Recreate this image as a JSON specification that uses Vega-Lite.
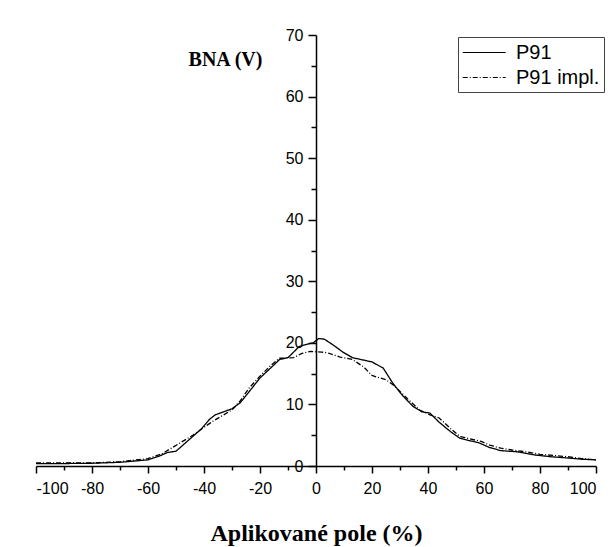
{
  "$schema": "https://vega.github.io/schema/vega-lite/v6.json",
  "width": 560,
  "height": 431,
  "autosize": {"type": "none"},
  "padding": {"left": 36, "top": 35, "right": 17, "bottom": 81},
  "background": "white",
  "config": {
    "view": {"stroke": null},
    "axis": {"grid": false, "domainColor": "black", "tickColor": "black", "labelColor": "black", "labelFont": "Liberation Sans", "labelFontSize": 16, "domainWidth": 1.5, "tickWidth": 1.5},
    "legend": {"labelFont": "Liberation Sans", "labelFontSize": 20, "labelColor": "black"}
  },
  "data": {"values": [
    {"x": -100, "v": 0.4, "s": "P91"}, {"x": -90, "v": 0.4, "s": "P91"}, {"x": -80, "v": 0.45, "s": "P91"}, {"x": -70, "v": 0.6, "s": "P91"}, {"x": -65, "v": 0.8, "s": "P91"}, {"x": -60, "v": 1.0, "s": "P91"}, {"x": -56, "v": 1.6, "s": "P91"}, {"x": -53, "v": 2.2, "s": "P91"}, {"x": -50, "v": 2.4, "s": "P91"}, {"x": -47, "v": 3.6, "s": "P91"}, {"x": -44, "v": 4.8, "s": "P91"}, {"x": -41, "v": 6.0, "s": "P91"}, {"x": -38, "v": 7.6, "s": "P91"}, {"x": -36, "v": 8.3, "s": "P91"}, {"x": -33, "v": 8.8, "s": "P91"}, {"x": -30, "v": 9.3, "s": "P91"}, {"x": -27, "v": 10.3, "s": "P91"}, {"x": -24, "v": 12.0, "s": "P91"}, {"x": -20, "v": 14.3, "s": "P91"}, {"x": -16, "v": 16.0, "s": "P91"}, {"x": -13, "v": 17.3, "s": "P91"}, {"x": -10, "v": 17.6, "s": "P91"}, {"x": -8, "v": 18.5, "s": "P91"}, {"x": -6, "v": 19.4, "s": "P91"}, {"x": -3, "v": 19.8, "s": "P91"}, {"x": -1, "v": 20.0, "s": "P91"}, {"x": 1, "v": 20.7, "s": "P91"}, {"x": 3, "v": 20.6, "s": "P91"}, {"x": 6, "v": 19.7, "s": "P91"}, {"x": 9.6, "v": 18.5, "s": "P91"}, {"x": 13, "v": 17.6, "s": "P91"}, {"x": 17, "v": 17.2, "s": "P91"}, {"x": 20, "v": 16.9, "s": "P91"}, {"x": 24, "v": 15.9, "s": "P91"}, {"x": 27.5, "v": 13.4, "s": "P91"}, {"x": 31, "v": 11.4, "s": "P91"}, {"x": 34.6, "v": 9.7, "s": "P91"}, {"x": 37.8, "v": 8.8, "s": "P91"}, {"x": 40.7, "v": 8.6, "s": "P91"}, {"x": 44, "v": 7.1, "s": "P91"}, {"x": 48, "v": 5.6, "s": "P91"}, {"x": 51.4, "v": 4.5, "s": "P91"}, {"x": 55, "v": 4.1, "s": "P91"}, {"x": 58, "v": 3.8, "s": "P91"}, {"x": 62, "v": 3.0, "s": "P91"}, {"x": 66, "v": 2.5, "s": "P91"}, {"x": 72, "v": 2.3, "s": "P91"}, {"x": 78, "v": 1.8, "s": "P91"}, {"x": 84, "v": 1.5, "s": "P91"}, {"x": 90, "v": 1.3, "s": "P91"}, {"x": 95, "v": 1.1, "s": "P91"}, {"x": 100, "v": 1.0, "s": "P91"},
    {"x": -100, "v": 0.5, "s": "P91 impl."}, {"x": -90, "v": 0.5, "s": "P91 impl."}, {"x": -80, "v": 0.5, "s": "P91 impl."}, {"x": -70, "v": 0.7, "s": "P91 impl."}, {"x": -60, "v": 1.2, "s": "P91 impl."}, {"x": -55, "v": 2.0, "s": "P91 impl."}, {"x": -52, "v": 2.8, "s": "P91 impl."}, {"x": -48, "v": 3.9, "s": "P91 impl."}, {"x": -44, "v": 5.0, "s": "P91 impl."}, {"x": -39, "v": 6.6, "s": "P91 impl."}, {"x": -36, "v": 7.5, "s": "P91 impl."}, {"x": -33, "v": 8.3, "s": "P91 impl."}, {"x": -30, "v": 9.1, "s": "P91 impl."}, {"x": -27, "v": 10.6, "s": "P91 impl."}, {"x": -24, "v": 12.6, "s": "P91 impl."}, {"x": -20, "v": 14.6, "s": "P91 impl."}, {"x": -16, "v": 16.4, "s": "P91 impl."}, {"x": -13, "v": 17.5, "s": "P91 impl."}, {"x": -8, "v": 17.6, "s": "P91 impl."}, {"x": -5, "v": 18.3, "s": "P91 impl."}, {"x": -2, "v": 18.6, "s": "P91 impl."}, {"x": 2, "v": 18.5, "s": "P91 impl."}, {"x": 4, "v": 18.4, "s": "P91 impl."}, {"x": 8.6, "v": 17.7, "s": "P91 impl."}, {"x": 13, "v": 17.3, "s": "P91 impl."}, {"x": 17, "v": 16.1, "s": "P91 impl."}, {"x": 20, "v": 14.7, "s": "P91 impl."}, {"x": 25, "v": 14.0, "s": "P91 impl."}, {"x": 27.5, "v": 13.2, "s": "P91 impl."}, {"x": 32.5, "v": 11.0, "s": "P91 impl."}, {"x": 37, "v": 9.1, "s": "P91 impl."}, {"x": 40.7, "v": 8.3, "s": "P91 impl."}, {"x": 44, "v": 7.8, "s": "P91 impl."}, {"x": 48, "v": 6.1, "s": "P91 impl."}, {"x": 51.4, "v": 4.8, "s": "P91 impl."}, {"x": 55, "v": 4.4, "s": "P91 impl."}, {"x": 59, "v": 4.0, "s": "P91 impl."}, {"x": 62, "v": 3.4, "s": "P91 impl."}, {"x": 66, "v": 2.9, "s": "P91 impl."}, {"x": 70, "v": 2.6, "s": "P91 impl."}, {"x": 75, "v": 2.3, "s": "P91 impl."}, {"x": 80, "v": 1.9, "s": "P91 impl."}, {"x": 85, "v": 1.7, "s": "P91 impl."}, {"x": 90, "v": 1.5, "s": "P91 impl."}, {"x": 95, "v": 1.2, "s": "P91 impl."}, {"x": 100, "v": 1.0, "s": "P91 impl."}
  ]},
  "resolve": {"axis": {"x": "independent", "y": "independent"}},
  "layer": [
    {
      "mark": {"type": "line", "color": "black", "strokeWidth": 1.3},
      "encoding": {
        "x": {"field": "x", "type": "quantitative", "scale": {"domain": [-100, 100], "nice": false},
          "axis": {"orient": "bottom", "values": [-100, -80, -60, -40, -20, 0, 20, 40, 60, 80, 100], "labelExpr": "'' + datum.value", "tickSize": 7, "labelPadding": 7,
            "title": "Aplikované pole (%)", "titleFont": "Liberation Serif", "titleFontWeight": "bold", "titleFontSize": 24, "titleColor": "black", "titleY": 67, "titleBaseline": "middle"}},
        "y": {"field": "v", "type": "quantitative", "scale": {"domain": [0, 70], "nice": false},
          "axis": {"orient": "left", "offset": -280, "values": [0, 10, 20, 30, 40, 50, 60, 70], "tickSize": 8, "labelPadding": 5,
            "title": "BNA (V)", "titleFont": "Liberation Serif", "titleFontWeight": "bold", "titleFontSize": 20, "titleColor": "black", "titleAngle": 0, "titleX": -91, "titleY": 24, "titleAlign": "center", "titleBaseline": "middle"}},
        "strokeDash": {"field": "s", "type": "nominal", "scale": {"domain": ["P91", "P91 impl."], "range": [[1, 0], [5, 2, 1, 2]]},
          "legend": {"title": null, "orient": "none", "legendX": 422, "legendY": 2, "symbolType": "M-1,0H3", "symbolSize": 462, "symbolStrokeWidth": 1.2, "symbolStrokeColor": "black", "symbolFillColor": "transparent", "strokeColor": "#444", "fillColor": "white", "padding": 4, "rowPadding": 3, "labelOffset": 31}}
      }
    },
    {
      "mark": {"type": "line", "opacity": 0},
      "encoding": {
        "x": {"field": "x", "type": "quantitative", "axis": {"orient": "bottom", "values": [-90, -70, -50, -30, -10, 10, 30, 50, 70, 90], "tickSize": 4, "labels": false, "domain": false, "title": null}},
        "y": {"field": "v", "type": "quantitative", "axis": {"orient": "left", "offset": -280, "values": [5, 15, 25, 35, 45, 55, 65], "tickSize": 5, "labels": false, "domain": false, "title": null}},
        "detail": {"field": "s"}
      }
    }
  ]
}
